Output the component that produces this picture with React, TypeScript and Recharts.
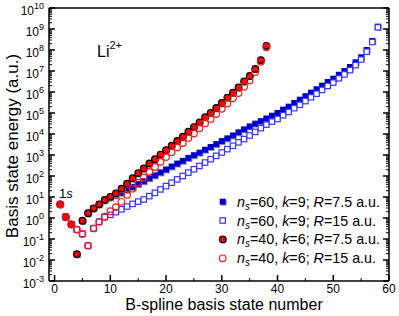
import React from "react";
import { ScatterChart, Scatter, XAxis, YAxis } from "recharts";

const W = 399;
const H = 316;
const LEFT = 49;
const RIGHT = 389;
const TOP = 8;
const BOTTOM = 281;
const FONT = "'Liberation Sans', Arial, Helvetica, sans-serif";

// basis state energies (a.u.), index = state number - 1
// n_s=60, k=9, R=7.5 a.u.
const blueFilled = [
  4.5, 1.12, 0.5, 0.019, 0.74, 1.7, 2.9, 4.5, 7.2, 9.3,
  12, 15.8, 22, 30, 41, 56, 78, 107, 148, 204,
  282, 389, 525, 724, 977, 1.29e3, 1.78e3, 2.4e3, 3.3e3, 4.6e3,
  6.2e3, 8.5e3, 1.2e4, 1.66e4, 2.3e4, 3.1e4, 4.1e4, 5.5e4, 7.4e4, 1.0e5,
  1.45e5, 2.0e5, 3.0e5, 4.3e5, 6.3e5, 9.3e5, 1.35e6, 2.0e6, 3.0e6, 4.3e6,
  6.6e6, 1.0e7, 1.55e7, 2.6e7, 4.5e7, 1.0e8, 2.7e8, 1.3e9,
];
// n_s=60, k=9, R=15 a.u.
const blueOpen = [
  4.5, 1.12, 0.5, 0.28, 0.175, 0.048, 0.32, 0.66, 1.1, 1.41,
  1.9, 2.6, 3.5, 4.7, 6.0, 7.6, 11, 15.8, 23, 33,
  48, 69, 100, 145, 209, 302, 437, 631, 912, 1.32e3,
  1.9e3, 2.75e3, 4.0e3, 5.75e3, 8.5e3, 1.26e4, 1.9e4, 2.8e4, 3.9e4, 5.2e4,
  7.8e4, 1.12e5, 1.7e5, 2.45e5, 3.7e5, 5.6e5, 8.3e5, 1.26e6, 1.95e6, 2.8e6,
  4.5e6, 6.9e6, 1.1e7, 1.9e7, 3.5e7, 8.3e7, 2.4e8, 1.2e9,
];
// n_s=40, k=6, R=7.5 a.u.
const redFilled = [
  4.5, 1.12, 0.5, 0.019, 0.74, 1.7, 2.9, 4.5, 7.2, 10.2,
  14.8, 25, 43, 78, 138, 229, 398, 631, 1.05e3, 1.7e3,
  2.8e3, 4.7e3, 7.4e3, 1.29e4, 2.14e4, 3.6e4, 6.3e4, 1.02e5, 1.74e5, 3.0e5,
  5.4e5, 9.3e5, 1.66e6, 3.2e6, 5.8e6, 1.26e7, 3.3e7, 1.58e8,
];
// n_s=40, k=6, R=15 a.u.
const redOpen = [
  4.5, 1.12, 0.5, 0.28, 0.175, 0.048, 0.32, 0.66, 1.15, 2.1,
  3.3, 5.9, 12.6, 25, 48, 85, 158, 269, 468, 794,
  1.35e3, 2.3e3, 3.7e3, 6.5e3, 1.07e4, 1.86e4, 3.2e4, 5.2e4, 8.9e4, 1.58e5,
  2.8e5, 5.0e5, 8.9e5, 1.78e6, 3.5e6, 8.9e6, 2.75e7, 1.35e8,
];

const X_TICKS = [0, 5, 10, 15, 20, 25, 30, 35, 40, 45, 50, 55, 60];
const Y_EXPONENTS = [-3, -2, -1, 0, 1, 2, 3, 4, 5, 6, 7, 8, 9, 10];

const yTicks: number[] = [];
Y_EXPONENTS.forEach((p) => {
  yTicks.push(Number(`1e${p}`));
  if (p < 10) for (let m = 2; m <= 9; m++) yTicks.push(Number(`${m}e${p}`));
});

const toPoints = (arr: number[]) => arr.map((e, i) => ({ n: i + 1, e }));

function isMajor(v: number) {
  const l = Math.log10(v);
  return Math.abs(l - Math.round(l)) < 1e-6;
}

function LeftTick(props: any) {
  const y = props.payload?.coordinate ?? props.y;
  const v = props.payload.value;
  const major = isMajor(v);
  return (
    <g>
      <line x1={LEFT} x2={LEFT + (major ? 6 : 3)} y1={y} y2={y} stroke="#000" strokeWidth={major ? 1.5 : 1} />
      {major && (
        <text x={44} y={y + 7} textAnchor="end" fontSize={12} fontFamily={FONT} fill="#000">
          10<tspan dy={-6} fontSize={9}>{Math.round(Math.log10(v))}</tspan>
        </text>
      )}
    </g>
  );
}

function RightTick(props: any) {
  const y = props.payload?.coordinate ?? props.y;
  const major = isMajor(props.payload.value);
  return <line x1={RIGHT} x2={RIGHT - (major ? 6 : 3)} y1={y} y2={y} stroke="#000" strokeWidth={major ? 1.5 : 1} />;
}

function BottomTick(props: any) {
  const x = props.payload?.coordinate ?? props.x;
  const v = props.payload.value;
  const major = v % 10 === 0;
  return (
    <g>
      <line x1={x} x2={x} y1={BOTTOM} y2={BOTTOM - (major ? 6 : 3)} stroke="#000" strokeWidth={major ? 1.5 : 1} />
      {major && (
        <text x={x} y={BOTTOM + 12} textAnchor="middle" fontSize={12} fontFamily={FONT} fill="#000">
          {v}
        </text>
      )}
    </g>
  );
}

function TopTick(props: any) {
  const x = props.payload?.coordinate ?? props.x;
  const major = props.payload.value % 10 === 0;
  return <line x1={x} x2={x} y1={TOP} y2={TOP + (major ? 6 : 3)} stroke="#000" strokeWidth={major ? 1.5 : 1} />;
}

const BlueSquare = ({ cx, cy }: any) => (
  <g>
    <rect x={cx - 2} y={cy - 2} width={6} height={6} fill="#9a9a9a" />
    <rect x={cx - 3} y={cy - 3} width={6} height={6} fill="#0000c8" />
  </g>
);
const BlueOpenSquare = ({ cx, cy }: any) => (
  <rect x={cx - 2.7} y={cy - 2.7} width={5.4} height={5.4} fill="#fff" stroke="#3333ff" strokeWidth={1.2} />
);
const RedDot = ({ cx, cy }: any) => (
  <g>
    <circle cx={cx + 0.8} cy={cy + 0.8} r={3.6} fill="#a0a0a0" />
    <circle cx={cx} cy={cy} r={3.3} fill="#ff0000" stroke="#000" strokeWidth={1.2} />
  </g>
);
const RedRing = ({ cx, cy }: any) => (
  <circle cx={cx} cy={cy} r={3.3} fill="none" stroke="#ff1a1a" strokeWidth={1.2} />
);

const legendRows = [
  { y: 201.7, shape: BlueSquare, R: "7.5", ns: "60", k: "9" },
  { y: 220.5, shape: BlueOpenSquare, R: "15", ns: "60", k: "9" },
  { y: 239.3, shape: RedDot, R: "7.5", ns: "40", k: "6" },
  { y: 258.3, shape: RedRing, R: "15", ns: "40", k: "6" },
];

export default function App() {
  const axisLine = { stroke: "#000", strokeWidth: 1.5 };
  return (
    <div style={{ position: "absolute", left: 0, top: 0, width: W, height: H, background: "#fff" }}>
      <ScatterChart width={W} height={H} margin={{ top: 0, right: 0, bottom: 0, left: 0 }}>
        <XAxis xAxisId="b" dataKey="n" type="number" domain={[-1, 60]} ticks={X_TICKS} interval={0}
          height={H - BOTTOM} tick={<BottomTick />} tickLine={false} axisLine={axisLine} allowDataOverflow />
        <XAxis xAxisId="t" orientation="top" type="number" domain={[-1, 60]} ticks={X_TICKS} interval={0}
          height={TOP} tick={<TopTick />} tickLine={false} axisLine={axisLine} allowDataOverflow />
        <YAxis yAxisId="l" dataKey="e" type="number" scale="log" domain={[1e-3, 1e10]} ticks={yTicks} interval={0}
          width={LEFT} tick={<LeftTick />} tickLine={false} axisLine={axisLine} allowDataOverflow />
        <YAxis yAxisId="r" orientation="right" type="number" scale="log" domain={[1e-3, 1e10]} ticks={yTicks} interval={0}
          width={W - RIGHT} tick={<RightTick />} tickLine={false} axisLine={axisLine} allowDataOverflow />
        <Scatter xAxisId="b" yAxisId="l" data={toPoints(blueFilled)} shape={BlueSquare} isAnimationActive={false} />
        <Scatter xAxisId="b" yAxisId="l" data={toPoints(blueOpen)} shape={BlueOpenSquare} isAnimationActive={false} />
        <Scatter xAxisId="b" yAxisId="l" data={toPoints(redFilled)} shape={RedDot} isAnimationActive={false} />
        <Scatter xAxisId="b" yAxisId="l" data={toPoints(redOpen)} shape={RedRing} isAnimationActive={false} />
      </ScatterChart>
      <svg width={W} height={H} style={{ position: "absolute", left: 0, top: 0, pointerEvents: "none" }}
        fontFamily={FONT} fill="#000">
        <text x={224} y={310} textAnchor="middle" fontSize={16}>B-spline basis state number</text>
        <text transform="translate(18,146) rotate(-90)" textAnchor="middle" fontSize={17}>Basis state energy (a.u.)</text>
        <text x={97} y={57} fontSize={16}>Li<tspan dy={-8} fontSize={11}>2+</tspan></text>
        <text x={59} y={198} fontSize={13}>1<tspan fontStyle="italic">s</tspan></text>
        {legendRows.map((r, i) => {
          const Shape = r.shape;
          return (
            <g key={i}>
              <Shape cx={222.7} cy={r.y} />
              <text x={237} y={r.y + 5} fontSize={14.3}>
                <tspan fontStyle="italic">n</tspan>
                <tspan dy={3} fontSize={10} fontStyle="italic">s</tspan>
                <tspan dy={-3}>={r.ns}, </tspan>
                <tspan fontStyle="italic">k</tspan>
                <tspan>={r.k}; </tspan>
                <tspan fontStyle="italic">R</tspan>
                <tspan>={r.R} a.u.</tspan>
              </text>
            </g>
          );
        })}
      </svg>
    </div>
  );
}
